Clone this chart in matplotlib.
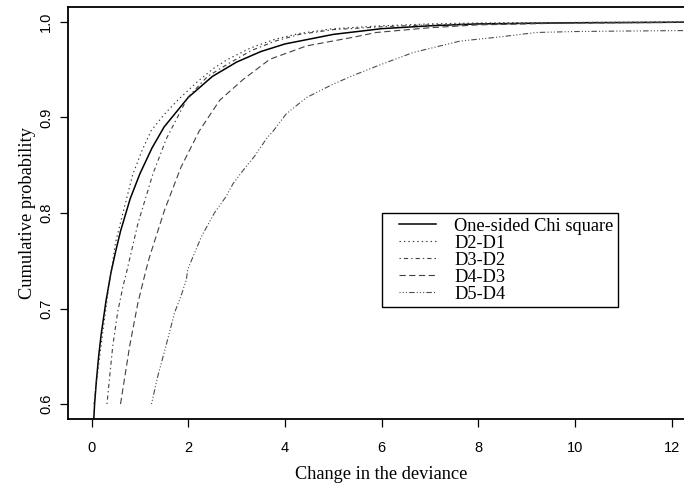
import numpy as np
import matplotlib
matplotlib.use("Agg")
import matplotlib.pyplot as plt
from matplotlib.legend_handler import HandlerLine2D

plt.rcParams['lines.scale_dashes'] = False

# values
chi_x = [0.0, 0.03, 0.064, 0.1, 0.15, 0.2, 0.3, 0.4, 0.5, 0.6, 0.8, 1.0, 1.25,
         1.5, 2.0, 2.5, 3.0, 3.5, 4.0, 5.0, 6.0, 7.0, 8.0, 10.0, 12.0, 12.5]
chi_y = [0.500, 0.569, 0.600, 0.624, 0.651, 0.673, 0.708, 0.737, 0.760, 0.781,
         0.815, 0.841, 0.868, 0.890, 0.921, 0.943, 0.958, 0.969, 0.977, 0.987,
         0.993, 0.996, 0.998, 0.9992, 0.9997, 0.9998]

d21_x = [0.05, 0.1, 0.24, 0.35, 0.5, 0.65, 0.85, 1.05, 1.23, 1.5, 1.78, 2.2,
         2.54, 2.82, 3.3, 3.8, 4.3, 5.0, 6.0, 7.0, 8.0, 10.0, 12.0, 12.5]
d21_y = [0.600, 0.622, 0.678, 0.720, 0.770, 0.800, 0.840, 0.866, 0.886, 0.903,
         0.918, 0.938, 0.952, 0.961, 0.973, 0.982, 0.988, 0.993, 0.996, 0.998,
         0.999, 0.9995, 1.0, 1.0]

d32_x = [0.32, 0.37, 0.44, 0.54, 0.65, 0.72, 0.96, 1.27, 1.55, 1.99, 2.4, 2.82,
         3.3, 3.8, 4.3, 5.0, 6.0, 7.0, 8.0, 10.0, 12.0, 12.5]
d32_y = [0.600, 0.626, 0.661, 0.696, 0.723, 0.737, 0.789, 0.841, 0.878, 0.921,
         0.943, 0.956, 0.970, 0.980, 0.987, 0.992, 0.995, 0.997, 0.998, 0.999,
         0.9995, 1.0]

d43_x = [0.6, 0.79, 0.96, 1.13, 1.2, 1.51, 1.85, 2.23, 2.65, 3.14, 3.69, 4.45,
         5.41, 5.89, 7.0, 8.0, 10.0, 12.0, 12.5]
d43_y = [0.600, 0.661, 0.706, 0.741, 0.754, 0.803, 0.848, 0.886, 0.918, 0.940,
         0.961, 0.975, 0.984, 0.989, 0.994, 0.997, 0.999, 0.9995, 1.0]

d54_x = [1.24, 1.37, 1.54, 1.72, 1.85, 1.96, 1.99, 2.27, 2.54, 2.78, 2.93,
         3.14, 3.38, 3.62, 3.76, 4.03, 4.45, 5.0, 5.41, 5.96, 6.65, 7.62,
         8.38, 9.2, 10.0, 11.0, 12.24, 12.5]
d54_y = [0.600, 0.629, 0.661, 0.696, 0.713, 0.730, 0.741, 0.775, 0.800, 0.817,
         0.831, 0.845, 0.860, 0.878, 0.886, 0.904, 0.921, 0.935, 0.944, 0.955,
         0.968, 0.980, 0.984, 0.989, 0.990, 0.9905, 0.991, 0.991]

labels = ['One-sided Chi square', 'D2-D1', 'D3-D2', 'D4-D3', 'D5-D4']
xticks = [0, 2, 4, 6, 8, 10, 12]
yticks = [0.6, 0.7, 0.8, 0.9, 1.0]

serif = 'Liberation Serif'
sans = 'Liberation Sans'
fs = 13.2

fig = plt.figure(figsize=(6.84, 4.87), dpi=100)
# the plot region runs a little past the right edge of the picture
ax = fig.add_axes([68.3/684, 1 - 419.3/487, (695 - 68.3)/684, (419.3 - 6.7)/487])

ax.plot(chi_x, chi_y, color='black', lw=1.1, label=labels[0])
ax.plot(d21_x, d21_y, color='0.2', lw=0.8, dashes=(1, 2.2), label=labels[1])
ax.plot(d32_x, d32_y, color='0.25', lw=0.8, dashes=(1, 2.2, 3, 2.2), label=labels[2])
ax.plot(d43_x, d43_y, color='0.25', lw=0.8, dashes=(4.5, 2.5), label=labels[3])
ax.plot(d54_x, d54_y, color='0.3', lw=0.8,
        dashes=(0.8, 1.5, 0.8, 1.5, 0.8, 1.5, 4, 1.5), label=labels[4])

ax.set_xlim(-0.48, 12.48)
ax.set_ylim(0.584, 1.016)
ax.set_xticks(xticks)
ax.set_xticklabels([str(t) for t in xticks], family=sans, fontsize=10.5)
ax.set_yticks(yticks)
ax.set_yticklabels(['%.1f' % t for t in yticks], family=sans, fontsize=10.5,
                   rotation=90, va='center')
ax.tick_params(direction='out', length=6, width=0.9, colors='black')
ax.tick_params(axis='x', pad=9.5)
ax.tick_params(axis='y', pad=5)

for s in ax.spines.values():
    s.set_linewidth(1.3)

ax.set_xlabel('Change in the deviance', family=serif, fontsize=fs, labelpad=8)
ax.set_ylabel('Cumulative probability', family=serif, fontsize=fs, labelpad=2)

leg = ax.legend(loc='upper left', bbox_to_anchor=(381.7/684, 1 - 213.3/487),
                bbox_transform=fig.transFigure, borderaxespad=0,
                prop={'family': serif, 'size': fs}, fancybox=False,
                edgecolor='black', framealpha=1, handlelength=2.71,
                handletextpad=0.98, labelspacing=0.0, borderpad=0.25,
                handler_map={plt.Line2D: HandlerLine2D(xpad=0.72)})
leg.get_frame().set_linewidth(1.0)

fig.savefig('out.png', dpi=100)
